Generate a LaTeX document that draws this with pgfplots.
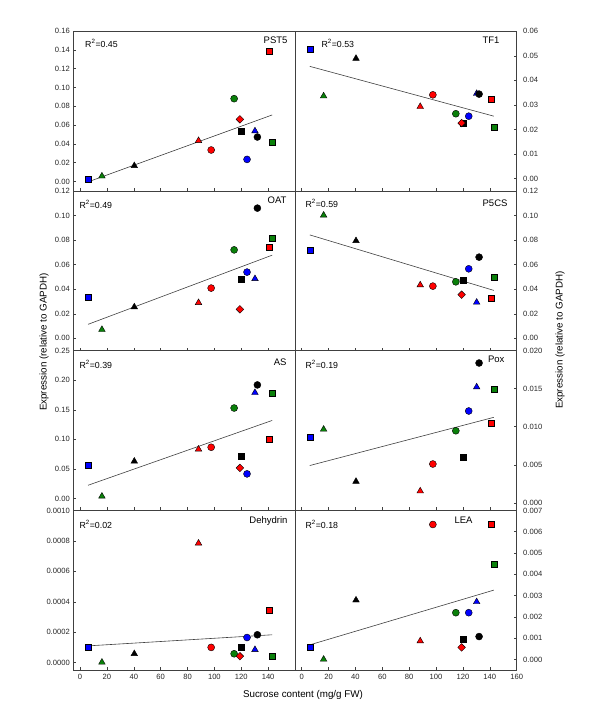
\documentclass[border=0pt]{standalone}
\usepackage{pgfplots}
\pgfplotsset{compat=1.18}
\usepackage{fontspec}
\setmainfont{Liberation Sans}
\definecolor{cred}{RGB}{255,0,0}
\definecolor{cgreen}{RGB}{10,128,10}
\definecolor{cblue}{RGB}{0,0,255}
\pgfplotsset{
  panel/.style={
    scale only axis, width=221.7pt, height=159.8pt, anchor=north west,
    xmin=-5, xmax=160,
    tick align=inside, xtick pos=left,
    major tick length=3pt,
    axis line style={line width=0.5pt, black!75},
    every tick/.style={line width=0.5pt, black!75},
    tick label style={font=\fontsize{7.6}{8}\selectfont, text=black!85},
    /pgf/number format/assume math mode=true,
    scaled y ticks=false,
  },
  leftp/.style={panel, ytick pos=left, xtick={0,20,...,140}},
  rightp/.style={panel, ytick pos=right, yticklabel pos=right, xtick={0,20,...,160},
    yticklabel style={xshift=3pt}},
  noxl/.style={xticklabels={}},
  prec/.style={yticklabel style={/pgf/number format/.cd, fixed, fixed zerofill, precision=#1}},
  markers/.style={only marks, scatter, scatter src=explicit symbolic,
    mark options={line width=0.4pt},
    scatter/classes={
      bsq={mark=square*, fill=cblue, draw=black, mark size=3.0pt},
      gsq={mark=square*, fill=cgreen, draw=black, mark size=3.0pt},
      rsq={mark=square*, fill=cred, draw=black, mark size=3.0pt},
      ksq={mark=square*, fill=black, draw=black, mark size=3.0pt},
      gtri={mark=triangle*, fill=cgreen, draw=black, mark size=3.8pt},
      ktri={mark=triangle*, fill=black, draw=black, mark size=3.8pt},
      rtri={mark=triangle*, fill=cred, draw=black, mark size=3.8pt},
      btri={mark=triangle*, fill=cblue, draw=black, mark size=3.8pt},
      rcirc={mark=*, fill=cred, draw=black, mark size=3.5pt},
      gcirc={mark=*, fill=cgreen, draw=black, mark size=3.5pt},
      bcirc={mark=*, fill=cblue, draw=black, mark size=3.5pt},
      kcirc={mark=*, fill=black, draw=black, mark size=3.5pt},
      rdia={mark=square*, fill=cred, draw=black, mark size=2.7pt, rotate=45}
    }},
  fit/.style={no marks, line width=0.6pt, black!75},
}
\newcommand{\rtext}[1]{\fontsize{8.8}{10}\selectfont R\textsuperscript{2}=#1}
\newcommand{\gfont}{\fontsize{9.5}{11}\selectfont}
\begin{document}
\begin{tikzpicture}
\path (0pt,0pt) rectangle (600pt,-723pt);
% ---------------- PST5
\begin{axis}[leftp, noxl, prec=2, at={(73.3pt,-31pt)}, ymin=-0.01, ymax=0.16,
  ytick={0,0.02,0.04,0.06,0.08,0.10,0.12,0.14}]
\addplot[fit] coordinates {(6,-0.0005) (143,0.0707)};
\addplot[markers] table[meta=c] {
x y c
6 0.0025 bsq
16.3 0.0056 gtri
40.4 0.0166 ktri
88.2 0.0433 rtri
97.6 0.0334 rcirc
114.7 0.088 gcirc
120.3 0.0529 ksq
119 0.066 rdia
124.3 0.0234 bcirc
130.2 0.0536 btri
132 0.0472 kcirc
140.8 0.139 rsq
143 0.0412 gsq
};
\end{axis}
% ---------------- TF1
\begin{axis}[rightp, noxl, prec=2, at={(295pt,-31pt)}, ymin=-0.005, ymax=0.0601,
  ytick={0,0.01,0.02,0.03,0.04,0.05,0.06}]
\addplot[fit] coordinates {(6,0.0457) (143,0.0254)};
\addplot[markers] table[meta=c] {
x y c
6 0.0527 bsq
16.3 0.0336 gtri
40.4 0.0489 ktri
88.2 0.0293 rtri
97.6 0.0341 rcirc
114.7 0.0264 gcirc
120.3 0.0226 ksq
119 0.0226 rdia
124.3 0.0254 bcirc
130.2 0.0346 btri
132 0.0344 kcirc
140.8 0.0324 rsq
143 0.0209 gsq
};
\end{axis}
% ---------------- OAT
\begin{axis}[leftp, noxl, prec=2, at={(73.3pt,-190.8pt)}, ymin=-0.01, ymax=0.1201,
  ytick={0,0.02,0.04,0.06,0.08,0.10,0.12}]
\addplot[fit] coordinates {(6,0.0114) (143,0.0677)};
\addplot[markers] table[meta=c] {
x y c
6 0.0331 bsq
16.3 0.0071 gtri
40.4 0.0255 ktri
88.2 0.029 rtri
97.6 0.0409 rcirc
114.7 0.072 gcirc
120.3 0.0482 ksq
119 0.0236 rdia
124.3 0.0539 bcirc
130.2 0.0485 btri
132 0.106 kcirc
140.8 0.0745 rsq
143 0.0815 gsq
};
\end{axis}
% ---------------- P5CS
\begin{axis}[rightp, noxl, prec=2, at={(295pt,-190.8pt)}, ymin=-0.01, ymax=0.1201,
  ytick={0,0.02,0.04,0.06,0.08,0.10,0.12}]
\addplot[fit] coordinates {(6,0.0842) (143,0.039)};
\addplot[markers] table[meta=c] {
x y c
6 0.072 bsq
16.3 0.1002 gtri
40.4 0.0794 ktri
88.2 0.0434 rtri
97.6 0.0425 rcirc
114.7 0.046 gcirc
120.3 0.0477 ksq
119 0.0355 rdia
124.3 0.0566 bcirc
130.2 0.0293 btri
132 0.0661 kcirc
140.8 0.0325 rsq
143 0.0499 gsq
};
\end{axis}
% ---------------- AS
\begin{axis}[leftp, noxl, prec=2, at={(73.3pt,-350.6pt)}, ymin=-0.02, ymax=0.25,
  ytick={0,0.05,0.10,0.15,0.20}]
\addplot[fit] coordinates {(6,0.0225) (143,0.132)};
\addplot[markers] table[meta=c] {
x y c
6 0.0557 bsq
16.3 0.0039 gtri
40.4 0.063 ktri
88.2 0.0833 rtri
97.6 0.0867 rcirc
114.7 0.153 gcirc
120.3 0.0721 ksq
119 0.0518 rdia
124.3 0.0417 bcirc
130.2 0.179 btri
132 0.192 kcirc
140.8 0.0997 rsq
143 0.1785 gsq
};
\end{axis}
% ---------------- Pox
\begin{axis}[rightp, noxl, prec=3, at={(295pt,-350.6pt)}, ymin=-0.001, ymax=0.02001,
  ytick={0,0.005,0.010,0.015,0.020}]
\addplot[fit] coordinates {(6,0.0049) (143,0.01124)};
\addplot[markers] table[meta=c] {
x y c
6 0.0086 bsq
16.3 0.00966 gtri
40.4 0.0028 ktri
88.2 0.00154 rtri
97.6 0.0051 rcirc
114.7 0.00947 gcirc
120.3 0.00605 ksq
124.3 0.01207 bcirc
130.2 0.01522 btri
132 0.01838 kcirc
140.8 0.0104 rsq
143 0.01487 gsq
};
\end{axis}
% ---------------- Dehydrin
\begin{axis}[leftp, prec=4, at={(73.3pt,-510.4pt)}, ymin=-0.00005, ymax=0.001001,
  ytick={0,0.0002,0.0004,0.0006,0.0008,0.0010}]
\addplot[fit] coordinates {(6,0.00011) (143,0.000183)};
\addplot[markers] table[meta=c] {
x y c
6 0.00010 bsq
16.3 0.000002 gtri
40.4 0.000058 ktri
88.2 0.000785 rtri
97.6 0.00010 rcirc
114.7 0.000058 gcirc
120.3 0.000099 ksq
119 0.000042 rdia
124.3 0.000165 bcirc
130.2 0.000085 btri
132 0.000183 kcirc
140.8 0.000345 rsq
143 0.00004 gsq
};
\end{axis}
% ---------------- LEA
\begin{axis}[rightp, prec=3, at={(295pt,-510.4pt)}, ymin=-0.0005, ymax=0.007001,
  ytick={0,0.001,0.002,0.003,0.004,0.005,0.006,0.007}]
\addplot[fit] coordinates {(6,0.00069) (143,0.00326)};
\addplot[markers] table[meta=c] {
x y c
6 0.0006 bsq
16.3 0.00001 gtri
40.4 0.00279 ktri
88.2 0.00087 rtri
97.6 0.00634 rcirc
114.7 0.0022 gcirc
120.3 0.00097 ksq
119 0.00057 rdia
124.3 0.0022 bcirc
130.2 0.00271 btri
132 0.00108 kcirc
140.8 0.00637 rsq
143 0.00446 gsq
};
\end{axis}
% ---------------- top tick labels at the frame
\node[anchor=east, font=\fontsize{7.6}{8}\selectfont, text=black!85] at (73.3pt,-31pt) {0.16};
\node[anchor=east, font=\fontsize{7.6}{8}\selectfont, text=black!85] at (73.3pt,-350.6pt) {0.25};
% ---------------- texts
\node[anchor=west] at (81.7pt,-43pt) {\rtext{0.45}};
\node[anchor=west] at (318pt,-43pt) {\rtext{0.53}};
\node[anchor=west] at (76pt,-204pt) {\rtext{0.49}};
\node[anchor=west] at (302pt,-203pt) {\rtext{0.59}};
\node[anchor=west] at (76pt,-364pt) {\rtext{0.39}};
\node[anchor=west] at (302pt,-364pt) {\rtext{0.19}};
\node[anchor=west] at (76pt,-524pt) {\rtext{0.02}};
\node[anchor=west] at (302pt,-524pt) {\rtext{0.18}};
\node[anchor=east, font=\gfont] at (291pt,-40pt) {PST5};
\node[anchor=east, font=\gfont] at (503pt,-40pt) {TF1};
\node[anchor=east, font=\gfont] at (290pt,-200pt) {OAT};
\node[anchor=east, font=\gfont] at (511pt,-203pt) {P5CS};
\node[anchor=east, font=\gfont] at (290pt,-362pt) {AS};
\node[anchor=east, font=\gfont] at (508pt,-359pt) {Pox};
\node[anchor=east, font=\gfont] at (291pt,-521pt) {Dehydrin};
\node[anchor=east, font=\gfont] at (476pt,-520pt) {LEA};
\node[rotate=90, font=\fontsize{9.8}{11}\selectfont] at (44pt,-342pt) {Expression (relative to GAPDH)};
\node[rotate=90, font=\fontsize{9.8}{11}\selectfont] at (560pt,-340pt) {Expression (relative to GAPDH)};
\node[font=\fontsize{9.8}{11}\selectfont] at (303pt,-695pt) {Sucrose content (mg/g FW)};
\end{tikzpicture}
\end{document}
